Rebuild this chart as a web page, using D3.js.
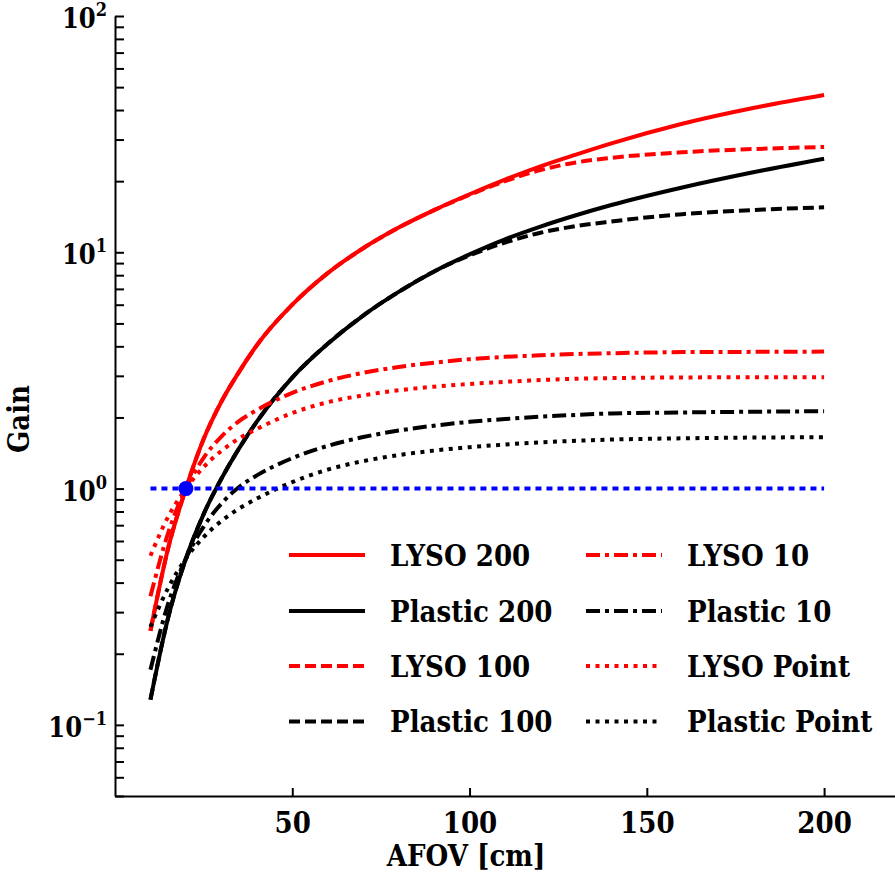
<!DOCTYPE html>
<html>
<head>
<meta charset="utf-8">
<script src="https://cdn.jsdelivr.net/npm/d3@7"></script>
<style>
  html, body { margin: 0; padding: 0; background: #fff; }
  svg { display: block; }
  text { font-family: "DejaVu Serif Condensed", "DejaVu Serif", serif; font-stretch: condensed; font-weight: bold; fill: #000; }
</style>
</head>
<body>
<svg id="chart" width="895" height="878"></svg>
<script>
// ---------------- data ----------------
const afov = [10, 15, 20, 25, 30, 35, 40, 50, 60, 70, 80, 90, 100, 110, 120, 130, 140, 160, 180, 200];

const lyso200    = [0.25, 0.56, 1.0, 1.62, 2.33, 3.12, 4.04, 6.0, 8.16, 10.4, 12.72, 15.08, 17.6, 20.3, 23.1, 25.9, 28.9, 35.0, 40.8, 46.3];
const plastic200 = [0.128, 0.285, 0.505, 0.78, 1.1, 1.48, 1.92, 2.95, 4.1, 5.4, 6.8, 8.3, 9.8, 11.35, 12.85, 14.35, 15.85, 18.8, 21.8, 24.9];
const lyso100    = [0.25, 0.56, 1.0, 1.62, 2.33, 3.12, 4.04, 6.0, 8.16, 10.4, 12.72, 15.08, 17.5, 20.0, 22.3, 24.0, 25.1, 26.5, 27.35, 27.9];
const plastic100 = [0.128, 0.285, 0.505, 0.78, 1.1, 1.48, 1.92, 2.95, 4.1, 5.4, 6.8, 8.3, 9.7, 11.0, 12.1, 12.9, 13.5, 14.5, 15.1, 15.5];
const lyso10     = [0.35, 0.65, 1.0, 1.35, 1.66, 1.93, 2.15, 2.54, 2.85, 3.09, 3.27, 3.41, 3.53, 3.61, 3.665, 3.71, 3.74, 3.78, 3.79, 3.8];
const plastic10  = [0.171, 0.326, 0.506, 0.69, 0.864, 1.015, 1.137, 1.345, 1.516, 1.652, 1.76, 1.846, 1.916, 1.97, 2.015, 2.05, 2.08, 2.10, 2.115, 2.125];
const lysoPoint  = [0.52, 0.76, 1.0, 1.233, 1.443, 1.63, 1.787, 2.087, 2.32, 2.48, 2.606, 2.70, 2.77, 2.83, 2.88, 2.915, 2.934, 2.954, 2.958, 2.96];
const plasticPoint = [0.26, 0.38, 0.506, 0.623, 0.729, 0.823, 0.907, 1.065, 1.203, 1.307, 1.386, 1.448, 1.497, 1.536, 1.569, 1.593, 1.612, 1.632, 1.644, 1.65];

const seriesNames = ["LYSO 200", "Plastic 200", "LYSO 100", "Plastic 100", "LYSO 10", "Plastic 10", "LYSO Point", "Plastic Point"];
const seriesValues = [lyso200, plastic200, lyso100, plastic100, lyso10, plastic10, lysoPoint, plasticPoint];
const seriesColors = ["#ff0000", "#000000", "#ff0000", "#000000", "#ff0000", "#000000", "#ff0000", "#000000"];
const seriesStyles = ["solid", "solid", "dashed", "dashed", "dashdot", "dashdot", "dotted", "dotted"];

const refLineX = [10, 200];
const refLineY = [1, 1];
const refPoint = [20, 1];

const xTicks = [50, 100, 150, 200];
const yMajor = [0.1, 1, 10, 100];
const yExp = [-1, 0, 1, 2];
const yMinor = [0.05, 0.06, 0.07, 0.08, 0.09, 0.2, 0.3, 0.4, 0.5, 0.6, 0.7, 0.8, 0.9,
                2, 3, 4, 5, 6, 7, 8, 9, 20, 30, 40, 50, 60, 70, 80, 90];

const xLabel = "AFOV [cm]";
const yLabel = "Gain";

// ---------------- layout ----------------
const svg = d3.select("#chart");
const L = 115, R = 895, T = 16, B = 796;
const x = d3.scaleLinear().domain([0, 220]).range([L, R]);
const y = d3.scaleLog().domain([0.05, 100]).range([B, T]);

const dashes = { solid: null, dashed: "11,5", dashdot: "14,5,4,5", dotted: "4,5.5" };

// ---------------- series ----------------
const line = d3.line().x(d => x(d[0])).y(d => y(d[1])).curve(d3.curveMonotoneX);
const gLines = svg.append("g");
seriesValues.forEach((vals, i) => {
  const pts = afov.map((a, k) => [a, vals[k]]);
  gLines.append("path")
    .attr("d", line(pts))
    .attr("fill", "none")
    .attr("stroke", seriesColors[i])
    .attr("stroke-width", 4)
    .attr("stroke-dasharray", dashes[seriesStyles[i]])
    .attr("stroke-linecap", "butt");
});

// reference line and point
svg.append("line")
  .attr("x1", x(refLineX[0])).attr("x2", x(refLineX[1]))
  .attr("y1", y(refLineY[0])).attr("y2", y(refLineY[1]))
  .attr("stroke", "#0000ff").attr("stroke-width", 4)
  .attr("stroke-dasharray", "6,5");
svg.append("circle")
  .attr("cx", x(refPoint[0])).attr("cy", y(refPoint[1]))
  .attr("r", 7.5).attr("fill", "#0000ff");

// ---------------- axes ----------------
const xAxis = d3.axisBottom(x).tickValues(xTicks).tickSizeInner(-8).tickSizeOuter(0).tickPadding(14)
  .tickFormat(d3.format("d"));
const gx = svg.append("g").attr("transform", `translate(0,${B})`).call(xAxis);
gx.select(".domain").attr("stroke", "#000").attr("stroke-width", 2);
gx.selectAll(".tick line").attr("stroke", "#000").attr("stroke-width", 2);
gx.selectAll(".tick text").attr("font-size", 29).attr("font-family", null).attr("fill", "#000")
  .attr("dy", null).attr("y", 37);

const yAxis = d3.axisLeft(y).tickValues(yMajor.concat(yMinor)).tickSizeInner(-9).tickSizeOuter(0)
  .tickFormat(() => "");
const gy = svg.append("g").attr("transform", `translate(${L},0)`).call(yAxis);
gy.select(".domain").attr("stroke", "#000").attr("stroke-width", 2);
gy.selectAll(".tick line").attr("stroke", "#000").attr("stroke-width", 2);

// y tick labels with superscript
yMajor.forEach((v, i) => {
  const t = svg.append("text")
    .attr("x", 107).attr("y", y(v) + 12)
    .attr("text-anchor", "end")
    .attr("font-size", 27);
  t.append("tspan").text("10");
  t.append("tspan").attr("dy", -12).attr("font-size", 18)
    .text(yExp[i] < 0 ? "\u2212" + Math.abs(yExp[i]) : String(yExp[i]));
});

// axis labels
svg.append("text")
  .attr("x", 466).attr("y", 866)
  .attr("text-anchor", "middle").attr("font-size", 29)
  .text(xLabel);
svg.append("text")
  .attr("transform", `translate(29,419) rotate(-90)`)
  .attr("text-anchor", "middle").attr("font-size", 29)
  .text(yLabel);

// ---------------- legend ----------------
const legRowY = [555, 611, 666, 721.5];
const legColX = [289, 586];
const legHandleW = 76;
const legTextX = [390, 687];
seriesNames.forEach((name, i) => {
  const col = Math.floor(i / 4), row = i % 4;
  const yy = legRowY[row];
  svg.append("line")
    .attr("x1", legColX[col]).attr("x2", legColX[col] + legHandleW)
    .attr("y1", yy).attr("y2", yy)
    .attr("stroke", seriesColors[i]).attr("stroke-width", 4)
    .attr("stroke-dasharray", dashes[seriesStyles[i]]);
  svg.append("text")
    .attr("x", legTextX[col]).attr("y", yy + 10.5)
    .attr("font-size", 29)
    .text(name);
});
</script>
</body>
</html>
